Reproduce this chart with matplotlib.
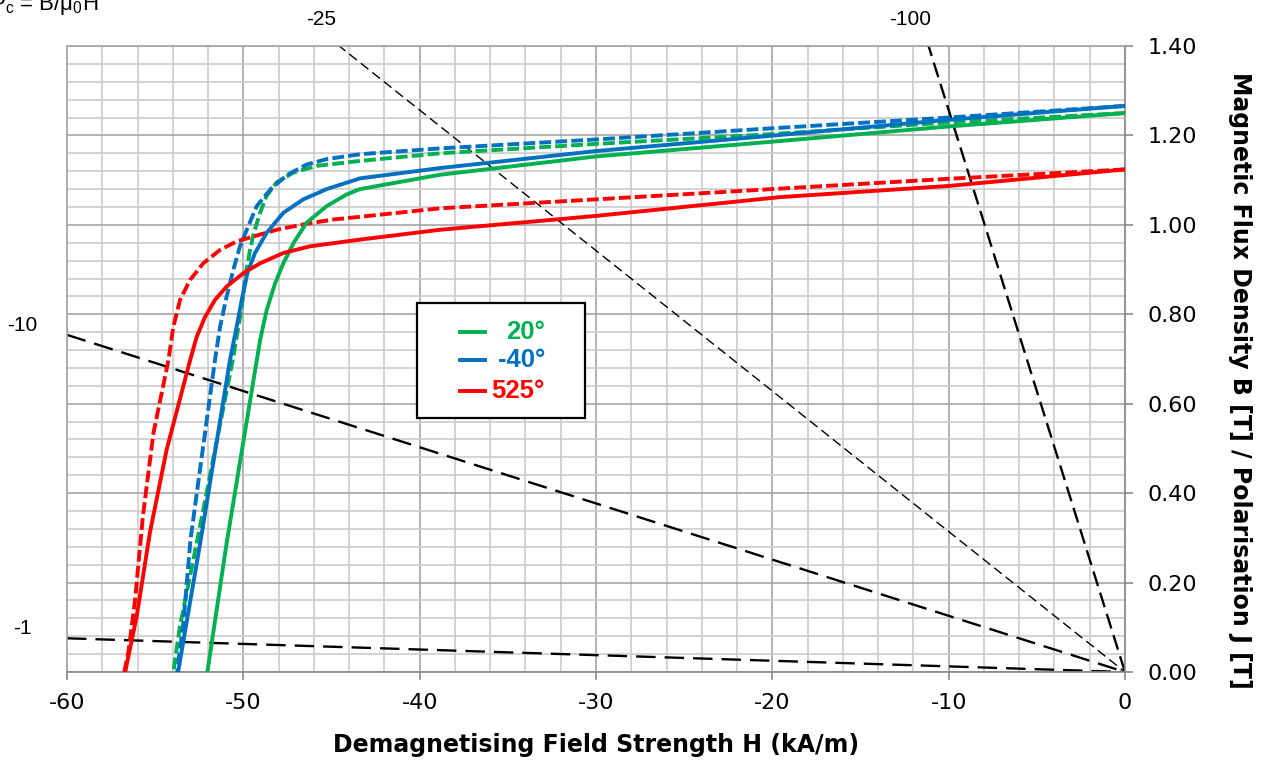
import numpy as np
import matplotlib
matplotlib.use("Agg")
import matplotlib.pyplot as plt
from matplotlib.ticker import MultipleLocator, FormatStrFormatter
from matplotlib.patches import Rectangle
from matplotlib.lines import Line2D

plt.rcParams['font.family'] = ['DejaVu Sans']
plt.rcParams['lines.scale_dashes'] = False

# ---------------- data ----------------
# 20 deg, B curve (solid)
h_20_b = [0, -10, -20, -30, -38.85, -43.38, -44.14, -45.27, -46.41, -47.16, -47.73, -48.20, -48.68, -49.05, -50.94, -52.04]
b_20_b = [1.250, 1.220, 1.186, 1.153, 1.112, 1.080, 1.068, 1.042, 1.005, 0.959, 0.914, 0.869, 0.809, 0.742, 0.290, 0.0]
# 20 deg, J curve (dashed)
h_20_j = [0, -10, -20, -30, -38.85, -43.38, -45.84, -47.16, -48.11, -48.68, -49.05, -49.40, -49.62, -49.85, -50.09, -50.57, -52.46, -53.6, -53.97]
b_20_j = [1.250, 1.229, 1.203, 1.181, 1.160, 1.143, 1.132, 1.117, 1.095, 1.065, 1.027, 0.982, 0.944, 0.892, 0.817, 0.704, 0.325, 0.101, 0.0]
# -40 deg, B curve (solid)
h_m40_b = [0, -10, -19.57, -30, -38.85, -43.38, -45.27, -46.60, -47.73, -48.68, -49.34, -49.77, -50.09, -50.38, -50.76, -52.46, -53.7]
b_m40_b = [1.266, 1.235, 1.201, 1.165, 1.127, 1.104, 1.080, 1.057, 1.027, 0.982, 0.937, 0.892, 0.832, 0.772, 0.697, 0.285, 0.0]
# -40 deg, J curve (dashed)
h_m40_j = [0, -10, -20, -30, -38.85, -43.38, -45.27, -46.40, -47.50, -48.40, -49.24, -49.72, -50.19, -50.57, -50.95, -51.32, -51.61, -52.46, -53.0, -53.4, -53.75]
b_m40_j = [1.266, 1.240, 1.216, 1.191, 1.171, 1.158, 1.147, 1.135, 1.112, 1.082, 1.042, 0.997, 0.952, 0.899, 0.839, 0.772, 0.697, 0.452, 0.295, 0.110, 0.0]
# 525 deg, B curve (solid)
h_525_b = [0, -10, -19.57, -30, -38.85, -43.38, -44.90, -46.22, -47.73, -49.05, -50.0, -50.95, -51.61, -52.17, -52.65, -53.02, -54.35, -55.3, -56.05, -56.7]
b_525_b = [1.124, 1.087, 1.062, 1.020, 0.989, 0.967, 0.959, 0.952, 0.937, 0.914, 0.892, 0.862, 0.832, 0.794, 0.749, 0.697, 0.497, 0.311, 0.124, 0.0]
# 525 deg, J curve (dashed)
h_525_j = [0, -10, -20, -30, -38.85, -43.38, -44.90, -46.60, -48.11, -49.43, -50.38, -51.32, -52.27, -53.02, -53.59, -53.97, -54.25, -55.1, -55.7, -56.14, -56.5, -56.75]
b_525_j = [1.124, 1.103, 1.080, 1.057, 1.037, 1.018, 1.012, 1.001, 0.989, 0.974, 0.963, 0.944, 0.914, 0.877, 0.832, 0.772, 0.697, 0.534, 0.347, 0.161, 0.049, 0.0]

legend_labels = ["20°", "-40°", "525°"]
colors = ["#00B050", "#0070C0", "#FF0000"]

# permeance coefficient load lines
pc_values = [-1, -10, -25, -100]
mu0_k = 4e-7 * np.pi * 1000  # mu0 per kA/m

x_ticks = [-60, -50, -40, -30, -20, -10, 0]
y_ticks = [0.0, 0.2, 0.4, 0.6, 0.8, 1.0, 1.2, 1.4]

# ---------------- figure ----------------
W, H = 1261, 764
fig = plt.figure(figsize=(W / 100, H / 100), dpi=100)
L, R, T, B = 67, 1125, 46, 672
ax = fig.add_axes([L / W, (H - B) / H, (R - L) / W, (B - T) / H])

ax.set_xlim(-60, 0)
ax.set_ylim(0, 1.4)

# grid
ax.xaxis.set_major_locator(MultipleLocator(10))
ax.xaxis.set_minor_locator(MultipleLocator(2))
ax.yaxis.set_major_locator(MultipleLocator(0.2))
ax.yaxis.set_minor_locator(MultipleLocator(0.04))
ax.grid(which='minor', color='#cccccc', lw=1.2, zorder=0)
ax.grid(which='major', color='#a4a4a4', lw=1.2, zorder=0)
ax.set_axisbelow(True)

# load lines
ll_styles = {
    -1: dict(lw=1.7, dashes=(14, 6.5)),
    -10: dict(lw=1.7, dashes=(14, 6.5)),
    -25: dict(lw=1.0, dashes=(7, 3.6)),
    -100: dict(lw=1.7, dashes=(11, 5)),
}
for pc in pc_values:
    hh = np.array([-60.0, 0.0])
    bb = pc * mu0_k * hh
    st = ll_styles[pc]
    ax.plot(hh, bb, color='black', lw=st['lw'], dashes=st['dashes'], zorder=2)

# curves
dash_pat = (8.5, 3.0)
curves = [
    (h_20_j, b_20_j, 0, True), (h_m40_j, b_m40_j, 1, True), (h_525_j, b_525_j, 2, True),
    (h_20_b, b_20_b, 0, False), (h_m40_b, b_m40_b, 1, False), (h_525_b, b_525_b, 2, False),
]
for hx, by, ci, dashed in curves:
    if dashed:
        ax.plot(hx, by, color=colors[ci], lw=2.8, dashes=dash_pat, zorder=3,
                solid_joinstyle='round', dash_joinstyle='round')
    else:
        ax.plot(hx, by, color=colors[ci], lw=2.8, zorder=4, solid_joinstyle='round')

# spines & ticks
for s in ['top', 'left']:
    ax.spines[s].set_color('#a4a4a4')
    ax.spines[s].set_linewidth(1.2)
for s in ['bottom', 'right']:
    ax.spines[s].set_color('#888888')
    ax.spines[s].set_linewidth(1.2)
ax.yaxis.tick_right()
ax.yaxis.set_label_position('right')
ax.set_xticks(x_ticks)
ax.set_xticklabels([str(v) for v in x_ticks])
ax.set_yticks(y_ticks)
ax.yaxis.set_major_formatter(FormatStrFormatter('%.2f'))
ax.tick_params(axis='x', which='major', length=6, width=1.2, color='#888888', labelsize=16, pad=9, direction='out')
ax.tick_params(axis='y', which='major', length=6, width=1.2, color='#888888', labelsize=16, pad=10, direction='out',
               left=False, right=True)
ax.tick_params(which='minor', length=0)

ax.set_xlabel('Demagnetising Field Strength H (kA/m)', fontsize=17, fontweight='bold', va='center')
ax.xaxis.set_label_coords(0.5, -(745 - B) / (B - T))
ax.set_ylabel('Magnetic Flux Density B [T] / Polarisation J [T]', fontsize=17, fontweight='bold',
              rotation=-90, va='center', ha='center')
ax.yaxis.set_label_coords((1240 - L) / (R - L), (B - 380) / (B - T))

# load-line labels
lab_font = dict(fontsize=15, family='Liberation Sans', color='black')
for pc in pc_values:
    if pc in (-25, -100):
        h_top = 1.4 / (pc * mu0_k)
        ax.annotate(str(pc), xy=(h_top, 1.4), xytext=(-13, 19), textcoords='offset points',
                    ha='center', va='center', annotation_clip=False, **lab_font)
    else:
        b_left = pc * mu0_k * -60
        ax.annotate(str(pc), xy=(-60, b_left), xytext=(-32, 7), textcoords='offset points',
                    ha='center', va='center', annotation_clip=False, **lab_font)

fig.text(-10 / W, 1 - 10 / H, r"P$_\mathregular{c}$ = B/μ$_\mathregular{0}$H", fontsize=16,
         family='Liberation Sans', ha='left', va='baseline')

# legend box (manual)
def fx(px):
    return (px - L) / (R - L)
def fy(py):
    return (B - py) / (B - T)

ax.add_patch(Rectangle((fx(417), fy(418)), fx(585) - fx(417), fy(303) - fy(418), transform=ax.transAxes,
                       facecolor='white', edgecolor='black', lw=1.6, zorder=6))
rows = [332, 360, 391]
for i, lab in enumerate(legend_labels):
    ax.add_line(Line2D([fx(460), fx(485)], [fy(rows[i]), fy(rows[i])], transform=ax.transAxes,
                       color=colors[i], lw=2.8, zorder=7))
    ax.text(fx(545), fy(rows[i]), lab, transform=ax.transAxes, ha='right', va='center',
            fontsize=18.5, fontweight='bold', family='Liberation Sans', color=colors[i], zorder=7)

fig.savefig('out.png', dpi=100)
